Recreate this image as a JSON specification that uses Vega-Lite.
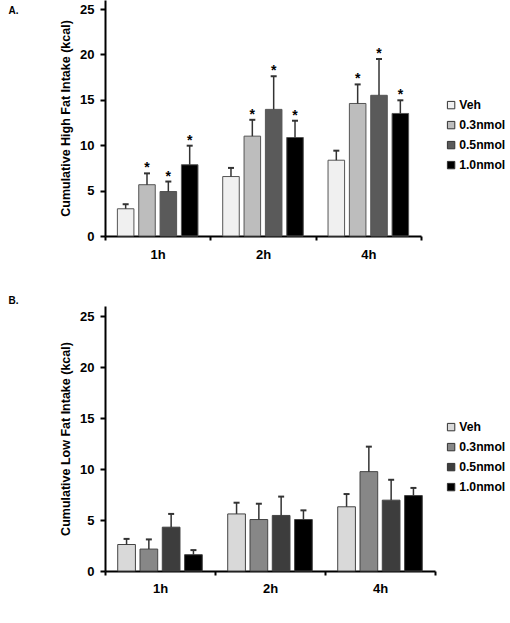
{
  "$schema": "https://vega.github.io/schema/vega-lite/v6.json",
  "background": "white",
  "padding": {"left": 8, "top": 0, "right": 0, "bottom": 0},
  "config": {
    "font": "Liberation Sans",
    "view": {"stroke": null},
    "axis": {
      "grid": false,
      "domainColor": "#000",
      "domainWidth": 2,
      "tickColor": "#000",
      "tickWidth": 2,
      "tickSize": 5,
      "labelFont": "Liberation Sans",
      "labelFontWeight": "bold",
      "labelFontSize": 13,
      "labelColor": "#000",
      "titleFont": "Liberation Sans",
      "titleColor": "#000"
    },
    "legend": {
      "orient": "none",
      "title": null,
      "symbolType": "square",
      "symbolSize": 55,
      "symbolStrokeColor": "#333",
      "symbolStrokeWidth": 1,
      "symbolOpacity": 1,
      "labelFont": "Liberation Sans",
      "labelFontSize": 12.2,
      "labelFontWeight": "bold",
      "labelColor": "#000",
      "rowPadding": 7,
      "labelOffset": 2
    }
  },
  "datasets": {
    "A": [
      {"time": "1h", "dose": "Veh", "mean": 3.0, "upper": 3.5, "sig": ""},
      {"time": "1h", "dose": "0.3nmol", "mean": 5.65, "upper": 6.9, "sig": "*"},
      {"time": "1h", "dose": "0.5nmol", "mean": 4.9, "upper": 6.0, "sig": "*"},
      {"time": "1h", "dose": "1.0nmol", "mean": 7.85, "upper": 9.95, "sig": "*"},
      {"time": "2h", "dose": "Veh", "mean": 6.55, "upper": 7.5, "sig": ""},
      {"time": "2h", "dose": "0.3nmol", "mean": 11.0, "upper": 12.8, "sig": "*"},
      {"time": "2h", "dose": "0.5nmol", "mean": 13.95, "upper": 17.6, "sig": "*"},
      {"time": "2h", "dose": "1.0nmol", "mean": 10.85, "upper": 12.7, "sig": "*"},
      {"time": "4h", "dose": "Veh", "mean": 8.35, "upper": 9.4, "sig": ""},
      {"time": "4h", "dose": "0.3nmol", "mean": 14.6, "upper": 16.7, "sig": "*"},
      {"time": "4h", "dose": "0.5nmol", "mean": 15.5, "upper": 19.5, "sig": "*"},
      {"time": "4h", "dose": "1.0nmol", "mean": 13.5, "upper": 14.95, "sig": "*"}
    ],
    "B": [
      {"time": "1h", "dose": "Veh", "mean": 2.6, "upper": 3.15},
      {"time": "1h", "dose": "0.3nmol", "mean": 2.15, "upper": 3.1},
      {"time": "1h", "dose": "0.5nmol", "mean": 4.3, "upper": 5.6},
      {"time": "1h", "dose": "1.0nmol", "mean": 1.6, "upper": 2.05},
      {"time": "2h", "dose": "Veh", "mean": 5.6, "upper": 6.7},
      {"time": "2h", "dose": "0.3nmol", "mean": 5.05, "upper": 6.6},
      {"time": "2h", "dose": "0.5nmol", "mean": 5.45, "upper": 7.3},
      {"time": "2h", "dose": "1.0nmol", "mean": 5.05, "upper": 5.95},
      {"time": "4h", "dose": "Veh", "mean": 6.3, "upper": 7.55},
      {"time": "4h", "dose": "0.3nmol", "mean": 9.75, "upper": 12.2},
      {"time": "4h", "dose": "0.5nmol", "mean": 6.95, "upper": 8.95},
      {"time": "4h", "dose": "1.0nmol", "mean": 7.4, "upper": 8.15}
    ]
  },
  "spacing": 35,
  "resolve": {"scale": {"color": "independent", "x": "independent", "y": "independent", "xOffset": "independent"}, "legend": {"color": "independent"}},
  "vconcat": [
    {
      "data": {"name": "A"},
      "width": 316,
      "height": 236,
      "title": {"text": "A.", "anchor": "start", "frame": "bounds", "fontSize": 10, "fontWeight": "bold", "font": "Liberation Sans", "color": "#000", "dx": -51, "dy": 16, "offset": 0},
      "encoding": {
        "x": {"field": "time", "type": "nominal", "sort": ["1h", "2h", "4h"], "scale": {"paddingInner": 0, "paddingOuter": 0}, "axis": {"title": null, "labelAngle": 0, "tickBand": "extent", "labelPadding": 8, "tickSize": 4}},
        "xOffset": {"field": "dose", "type": "nominal", "sort": ["Veh", "0.3nmol", "0.5nmol", "1.0nmol"], "scale": {"paddingInner": 0.225, "paddingOuter": 0.58}}
      },
      "layer": [
        {
          "mark": {"type": "bar", "stroke": "#555", "strokeWidth": 1},
          "encoding": {
            "y": {"field": "mean", "type": "quantitative", "scale": {"domain": [0, 25]}, "axis": {"values": [0, 5, 10, 15, 20, 25], "title": "Cumulative High Fat Intake (kcal)", "titleFontWeight": "bold", "titleFontSize": 12.5, "titlePadding": 7, "labelPadding": 6}},
            "color": {"field": "dose", "type": "nominal", "sort": ["Veh", "0.3nmol", "0.5nmol", "1.0nmol"], "scale": {"domain": ["Veh", "0.3nmol", "0.5nmol", "1.0nmol"], "range": ["#f0f0f0", "#bdbdbd", "#5a5a5a", "#000000"]}, "legend": {"legendX": 340, "legendY": 99}}
          }
        },
        {
          "mark": {"type": "rule", "color": "#333", "strokeWidth": 1.5},
          "encoding": {"y": {"field": "mean", "type": "quantitative"}, "y2": {"field": "upper"}}
        },
        {
          "mark": {"type": "tick", "color": "#333", "thickness": 2, "size": 6, "opacity": 1},
          "encoding": {"y": {"field": "upper", "type": "quantitative"}}
        },
        {
          "mark": {"type": "text", "fontSize": 14, "fontWeight": "bold", "baseline": "alphabetic", "dy": -1, "color": "#000"},
          "encoding": {"y": {"field": "upper", "type": "quantitative"}, "text": {"field": "sig"}}
        }
      ]
    },
    {
      "data": {"name": "B"},
      "width": 330,
      "height": 265,
      "title": {"text": "B.", "anchor": "start", "frame": "bounds", "fontSize": 10, "fontWeight": "bold", "font": "Liberation Sans", "color": "#000", "dx": -51, "dy": 5, "offset": 5},
      "encoding": {
        "x": {"field": "time", "type": "nominal", "sort": ["1h", "2h", "4h"], "scale": {"paddingInner": 0, "paddingOuter": 0}, "axis": {"title": null, "labelAngle": 0, "tickBand": "extent", "labelPadding": 7, "tickSize": 4}},
        "xOffset": {"field": "dose", "type": "nominal", "sort": ["Veh", "0.3nmol", "0.5nmol", "1.0nmol"], "scale": {"paddingInner": 0.206, "paddingOuter": 0.57}}
      },
      "layer": [
        {
          "mark": {"type": "bar", "stroke": "#444", "strokeWidth": 1},
          "encoding": {
            "y": {"field": "mean", "type": "quantitative", "scale": {"domain": [0, 25]}, "axis": {"values": [0, 5, 10, 15, 20, 25], "title": "Cumulative Low Fat Intake (kcal)", "titleFontWeight": "bold", "titleFontSize": 12.5, "titlePadding": 7, "labelPadding": 6}},
            "color": {"field": "dose", "type": "nominal", "sort": ["Veh", "0.3nmol", "0.5nmol", "1.0nmol"], "scale": {"domain": ["Veh", "0.3nmol", "0.5nmol", "1.0nmol"], "range": ["#d9d9d9", "#878787", "#3d3d3d", "#000000"]}, "legend": {"legendX": 340, "legendY": 115}}
          }
        },
        {
          "mark": {"type": "rule", "color": "#333", "strokeWidth": 1.5},
          "encoding": {"y": {"field": "mean", "type": "quantitative"}, "y2": {"field": "upper"}}
        },
        {
          "mark": {"type": "tick", "color": "#333", "thickness": 2, "size": 6, "opacity": 1},
          "encoding": {"y": {"field": "upper", "type": "quantitative"}}
        }
      ]
    }
  ]
}
